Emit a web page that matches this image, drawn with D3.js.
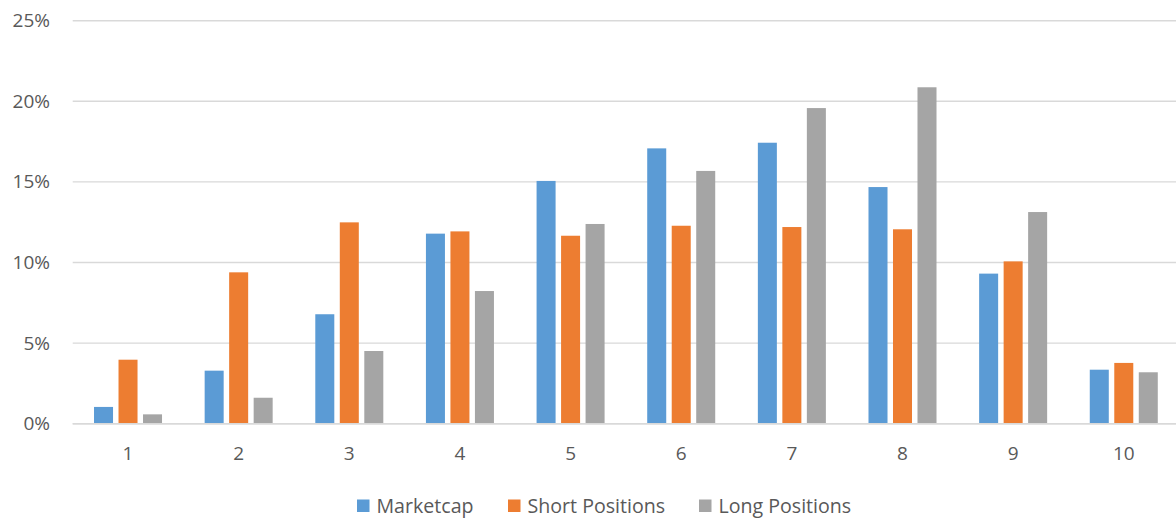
<!DOCTYPE html>
<html><head><meta charset="utf-8">
<script src="https://cdn.jsdelivr.net/npm/d3@7"></script>
<style>
html,body{margin:0;padding:0;background:#fff;}
svg text{font-family:"Open Sans","Noto Sans",sans-serif;fill:#595959;}
</style></head>
<body>
<svg id="chart" width="1176" height="521"></svg>
<script>
const categories = ["1","2","3","4","5","6","7","8","9","10"];
const seriesNames = ["Marketcap","Short Positions","Long Positions"];
const marketcap = [1.04, 3.29, 6.79, 11.79, 15.06, 17.08, 17.43, 14.68, 9.31, 3.35];
const shortPositions = [3.97, 9.39, 12.49, 11.93, 11.66, 12.28, 12.20, 12.06, 10.07, 3.77];
const longPositions = [0.58, 1.61, 4.51, 8.23, 12.39, 15.68, 19.58, 20.87, 13.13, 3.19];
const yTicks = [0, 5, 10, 15, 20, 25];
const colors = ["#5b9bd5", "#ed7d31", "#a5a5a5"];

(function () {
const seriesValues = [marketcap, shortPositions, longPositions];
const svg = d3.select("#chart");
const pLeft = 72.7, pRight = 1179.1, pTop = 20.7, pBottom = 423.7;
const ff = '"Open Sans","Noto Sans",sans-serif';

const x0 = d3.scaleBand().domain(categories).range([pLeft, pRight]).padding(0);
const x1 = d3.scaleBand().domain(seriesNames).range([0, x0.bandwidth()])
  .paddingInner(0.224).paddingOuter(0.87);
const y = d3.scaleLinear().domain([0, 25]).range([pBottom, pTop]);

// gridlines
svg.append("g").selectAll("line").data(yTicks).join("line")
  .attr("x1", pLeft).attr("x2", 1176)
  .attr("y1", d => y(d)).attr("y2", d => y(d))
  .attr("stroke", "#d9d9d9").attr("stroke-width", 1.4);

// y axis labels
const yAxis = d3.axisLeft(y).tickValues(yTicks).tickFormat(d => d + "%").tickSize(0).tickPadding(0);
const yg = svg.append("g").attr("transform", `translate(50,0)`).call(yAxis);
yg.select(".domain").remove();
yg.selectAll("text").attr("font-size", 19).attr("fill", "#595959").style("font-family", ff);

// bars
const groups = svg.append("g").selectAll("g").data(categories).join("g")
  .attr("transform", d => `translate(${x0(d)},0)`);
groups.selectAll("rect").data((d, i) => seriesNames.map((s, j) => ({s, j, v: seriesValues[j][i]})))
  .join("rect")
  .attr("x", d => x1(d.s))
  .attr("width", x1.bandwidth())
  .attr("y", d => y(d.v))
  .attr("height", d => y(0) - y(d.v))
  .attr("fill", d => colors[d.j]);

// baseline
svg.append("line").attr("x1", pLeft).attr("x2", 1176).attr("y1", y(0)).attr("y2", y(0))
  .attr("stroke", "#d9d9d9").attr("stroke-width", 1.4);

// x axis labels
const xAxis = d3.axisBottom(x0).tickSize(0).tickPadding(0);
const xg = svg.append("g").attr("transform", `translate(0,${pBottom})`).call(xAxis);
xg.select(".domain").remove();
xg.selectAll("text").attr("dy", null).attr("y", 36).attr("font-size", 19).attr("fill", "#595959").style("font-family", ff);

// legend
const legend = svg.append("g");
const legendY = 506;
const itemX = [357, 508, 699];
seriesNames.forEach((name, i) => {
  const g = legend.append("g").attr("transform", `translate(${itemX[i]},${legendY})`);
  g.append("rect").attr("x", 0).attr("y", -6.5).attr("width", 12.5).attr("height", 12.5).attr("fill", colors[i]);
  g.append("text").attr("x", 19.5).attr("y", 0).attr("dy", "0.35em").attr("font-size", 19.6).text(name);
});
})();
</script>
</body></html>
